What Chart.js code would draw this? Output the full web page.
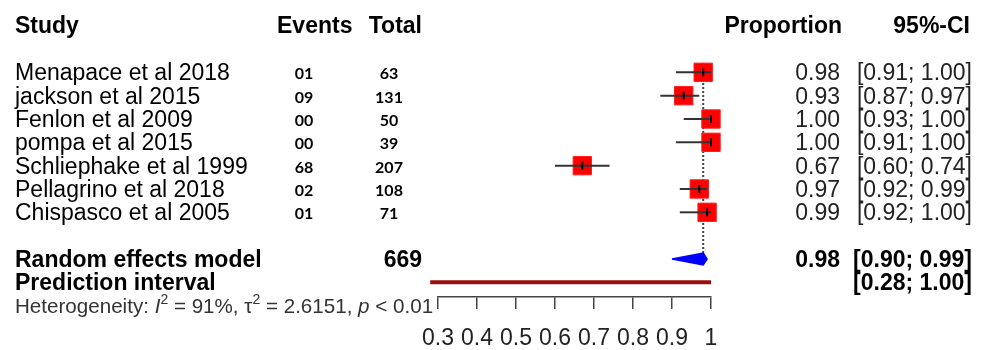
<!DOCTYPE html>
<html>
<head>
<meta charset="utf-8">
<script src="https://cdn.jsdelivr.net/npm/chart.js@4.4.1/dist/chart.umd.min.js"></script>
<style>
  html, body { margin: 0; padding: 0; background: #fff; }
  #wrap { width: 988px; height: 350px; }
</style>
</head>
<body>
<div id="wrap"><canvas id="forest" width="988" height="350"></canvas></div>
<script>
  // study data
  const studies = ['Menapace et al 2018', 'jackson et al 2015', 'Fenlon et al 2009', 'pompa et al 2015',
                   'Schliephake et al 1999', 'Pellagrino et al 2018', 'Chispasco et al 2005'];
  const events = ['01', '09', '00', '00', '68', '02', '01'];
  const totals = [63, 131, 50, 39, 207, 108, 71];
  const proportion = [0.98, 0.93, 1.00, 1.00, 0.67, 0.97, 0.99];
  const ciLower = [0.91, 0.87, 0.93, 0.91, 0.60, 0.92, 0.92];
  const ciUpper = [1.00, 0.97, 1.00, 1.00, 0.74, 0.99, 1.00];

  // random effects model + prediction interval
  const pooled = [0.90, 0.98, 0.99];   // lower, estimate, upper
  const prediction = [0.28, 1.00];
  const totalN = 669;

  const xTicks = [0.3, 0.4, 0.5, 0.6, 0.7, 0.8, 0.9, 1];

  const rows = studies.map((s, i) => i + 1);
  const pooledRow = 9, predRow = 10;
  const FONT = '"Liberation Sans", Arial, sans-serif';
  const fmt = v => v.toFixed(2);

  const lineDs = (data, extra) => Object.assign({
    type: 'line', data: data, borderColor: '#333', borderWidth: 2,
    pointRadius: 0, tension: 0, fill: false, clip: false
  }, extra || {});

  // draws all the table text next to the plot
  const textPlugin = {
    id: 'forestText',
    afterDraw(chart) {
      const ctx = chart.ctx, y = chart.scales.y;
      ctx.save();
      ctx.fillStyle = '#000';
      ctx.textBaseline = 'alphabetic';

      ctx.font = 'bold 23px ' + FONT;
      ctx.textAlign = 'left';
      ctx.fillText('Study', 15, 33);
      ctx.fillText('Events', 277, 33);
      ctx.textAlign = 'right';
      ctx.fillText('Total', 422, 33);
      ctx.fillText('Proportion', 842, 33);
      ctx.fillText('95%-CI', 970, 33);

      rows.forEach((r, i) => {
        const py = y.getPixelForValue(r) + 8;
        ctx.font = '23px ' + FONT;
        ctx.fillStyle = '#000';
        ctx.textAlign = 'left';
        ctx.fillText(studies[i], 15, py);
        ctx.fillStyle = '#222';
        ctx.textAlign = 'right';
        ctx.fillText(fmt(proportion[i]), 840, py);
        ctx.fillText('[' + fmt(ciLower[i]) + '; ' + fmt(ciUpper[i]) + ']', 972, py);
        ctx.fillStyle = '#000';
        ctx.font = 'bold 16px Lato, ' + FONT;
        ctx.textAlign = 'center';
        ctx.fillText(events[i], 304, py - 1);
        ctx.fillText(String(totals[i]), 389, py - 1);
      });

      let py = y.getPixelForValue(pooledRow) + 8;
      ctx.font = 'bold 23px ' + FONT;
      ctx.textAlign = 'left';
      ctx.fillText('Random effects model', 15, py);
      ctx.textAlign = 'right';
      ctx.fillText(String(totalN), 422, py);
      ctx.fillText(fmt(pooled[1]), 840, py);
      ctx.fillText('[' + fmt(pooled[0]) + '; ' + fmt(pooled[2]) + ']', 972, py);

      py = y.getPixelForValue(predRow) + 8;
      ctx.textAlign = 'left';
      ctx.fillText('Prediction interval', 15, py);
      ctx.textAlign = 'right';
      ctx.fillText('[' + fmt(prediction[0]) + '; ' + fmt(prediction[1]) + ']', 972, py);

      // heterogeneity line with italics and superscripts
      ctx.textAlign = 'left';
      ctx.fillStyle = '#333';
      const parts = [
        ['Heterogeneity: ', '', 0], ['I', 'italic ', 0], ['2', '', 1],
        [' = 91%, \u03C4', '', 0], ['2', '', 1], [' = 2.6151, ', '', 0],
        ['p', 'italic ', 0], [' < 0.01', '', 0]
      ];
      let hx = 15;
      const hy = 313;
      parts.forEach(([t, style, sup]) => {
        ctx.font = style + (sup ? '14px ' : '20.6px ') + FONT;
        ctx.fillText(t, hx, sup ? hy - 9 : hy);
        hx += ctx.measureText(t).width;
      });
      ctx.restore();
    }
  };

  const datasets = [
    // small vertical marks at each estimate
    { type: 'line', showLine: false, data: rows.map((r, i) => ({ x: proportion[i], y: r })),
      pointStyle: 'line', rotation: 90, pointRadius: 4, pointBorderWidth: 2,
      pointBorderColor: '#000', clip: false },
    // confidence intervals
    ...rows.map((r, i) => lineDs([{ x: ciLower[i], y: r }, { x: ciUpper[i], y: r }])),
    // study boxes
    { type: 'line', showLine: false, data: rows.map((r, i) => ({ x: proportion[i], y: r })),
      pointStyle: 'rect', pointRadius: 13, pointBackgroundColor: '#ff0000',
      pointBorderColor: '#ff2020', pointBorderWidth: 1, clip: false },
    // pooled diamond
    lineDs([{ x: pooled[0], y: pooledRow }, { x: pooled[1], y: pooledRow - 0.25 },
            { x: pooled[2], y: pooledRow }, { x: pooled[1], y: pooledRow + 0.25 },
            { x: pooled[0], y: pooledRow }],
           { borderColor: '#0000ff', backgroundColor: '#0000ff', borderWidth: 1.5, fill: 'shape' }),
    // prediction interval
    lineDs([{ x: prediction[0], y: predRow }, { x: prediction[1], y: predRow }],
           { borderColor: '#9a0e0e', borderWidth: 4 }),
    // dotted line at the pooled estimate
    lineDs([{ x: pooled[1], y: 0.6 }, { x: pooled[1], y: pooledRow - 0.25 }],
           { borderColor: '#444', borderWidth: 2, borderDash: [2, 2] })
  ];

  new Chart(document.getElementById('forest'), {
    type: 'line',
    data: { datasets: datasets },
    options: {
      responsive: false,
      animation: false,
      events: [],
      layout: { padding: { left: 438, right: 277, top: 10, bottom: 0 } },
      plugins: { legend: { display: false }, tooltip: { enabled: false } },
      scales: {
        x: {
          type: 'linear', min: 0.3, max: 1,
          afterBuildTicks: s => { s.ticks = xTicks.map(v => ({ value: v })); },
          afterFit: s => { s.height = 53; },
          grid: { drawOnChartArea: false, drawTicks: true, tickLength: 12, color: '#444', lineWidth: 1.5 },
          border: { display: true, color: '#444', width: 1.5 },
          ticks: {
            autoSkip: false, maxRotation: 0, padding: 16, color: '#222',
            font: { family: FONT, size: 23 },
            callback: v => String(+v.toFixed(1))
          }
        },
        y: { type: 'linear', display: false, min: -1.5, max: 10.63, reverse: true }
      }
    },
    plugins: [textPlugin]
  });
</script>
</body>
</html>
